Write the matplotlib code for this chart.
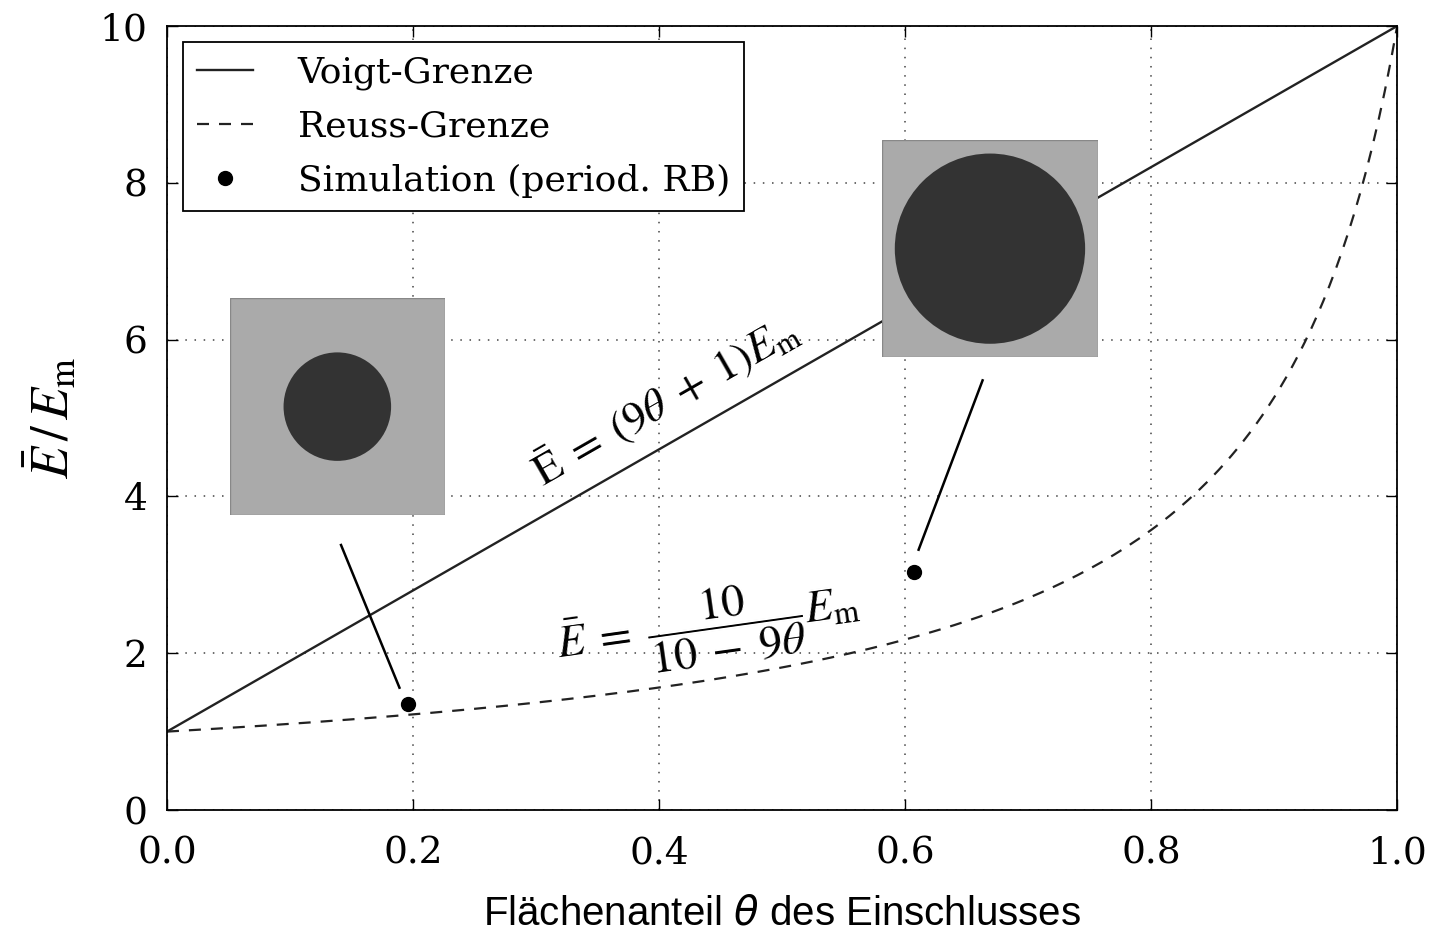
import numpy as np
import matplotlib
matplotlib.use('Agg')
import matplotlib.pyplot as plt
from matplotlib.patches import Rectangle, Circle

plt.rcParams['mathtext.fontset'] = 'stix'
plt.rcParams['font.family'] = 'DejaVu Serif'

# data
theta = np.linspace(0, 1, 201)
E_voigt = 9 * theta + 1
E_reuss = 10 / (10 - 9 * theta)

sim_theta = [0.196, 0.607]
sim_E = [1.35, 3.03]

# inset microstructures (axes fraction boxes) and connector lines (data coords)
inset_boxes = [[0.051, 0.376, 0.175, 0.277], [0.581, 0.578, 0.176, 0.276]]
connectors = [[(0.1415, 3.38), (0.189, 1.56)], [(0.663, 5.48), (0.611, 3.32)]]

xticks = [0.0, 0.2, 0.4, 0.6, 0.8, 1.0]
yticks = [0, 2, 4, 6, 8, 10]

fig = plt.figure(figsize=(14.33, 9.32), dpi=100)
ax = fig.add_axes([0.1165, 0.1309, 0.8585, 0.8412])

ax.plot(theta, E_voigt, color='#222222', lw=1.7, label='Voigt-Grenze')
ax.plot(theta, E_reuss, color='#222222', lw=1.6, ls=(0, (5.4, 4.5)), label='Reuss-Grenze')
ax.plot(sim_theta, sim_E, 'o', color='black', ms=10, label='Simulation (period. RB)')

for (p0, p1) in connectors:
    ax.plot([p0[0], p1[0]], [p0[1], p1[1]], color='black', lw=1.8)

for box, th in zip(inset_boxes, sim_theta):
    iax = ax.inset_axes(box)
    iax.set_xlim(0, 1)
    iax.set_ylim(0, 1)
    iax.axis('off')
    iax.add_patch(Rectangle((0, 0), 1, 1, facecolor='#aaaaaa', edgecolor='#888888', lw=1))
    iax.add_patch(Circle((0.5, 0.5), np.sqrt(th / np.pi), facecolor='#333333', edgecolor='none'))

ax.text(0.405, 5.22, r'$\bar{\mathrm{E}}\;=\;(9\theta\;+\;1)E_\mathrm{m}$', fontsize=32,
        rotation=29.8, ha='center', va='center', rotation_mode='anchor')
ax.text(0.44, 2.32, r'$\bar{E}\;=\;\dfrac{10}{10\;-\;9\theta}E_\mathrm{m}$', fontsize=33,
        rotation=8, ha='center', va='center', rotation_mode='anchor')

ax.set_xlim(0, 1)
ax.set_ylim(0, 10)
ax.set_xticks(xticks)
ax.set_yticks(yticks)
ax.set_xticklabels(['%.1f' % t for t in xticks])
ax.tick_params(direction='in', length=8, width=1, top=True, right=True,
               labelsize=27)
ax.tick_params(axis='x', pad=18)
ax.tick_params(axis='y', pad=14)
ax.grid(True, color='#444444', ls=(0, (1, 5)), lw=1.1)
for s in ax.spines.values():
    s.set_linewidth(1.3)

ax.set_xlabel(r'Flächenanteil $\theta$ des Einschlusses', fontsize=29,
              family='Liberation Sans', math_fontfamily='dejavusans', labelpad=17)
ax.set_ylabel(r'$\bar{E}\,/\,E_\mathrm{m}$', fontsize=38, labelpad=14)

leg = ax.legend(loc='upper left', fontsize=26, numpoints=1, fancybox=False,
                edgecolor='black', framealpha=1, handlelength=1.55,
                handletextpad=1.25, borderpad=0.38, labelspacing=0.55,
                borderaxespad=0, bbox_to_anchor=(0.013, 0.98))
leg.get_frame().set_linewidth(1.3)

fig.savefig('out.png', dpi=100)
